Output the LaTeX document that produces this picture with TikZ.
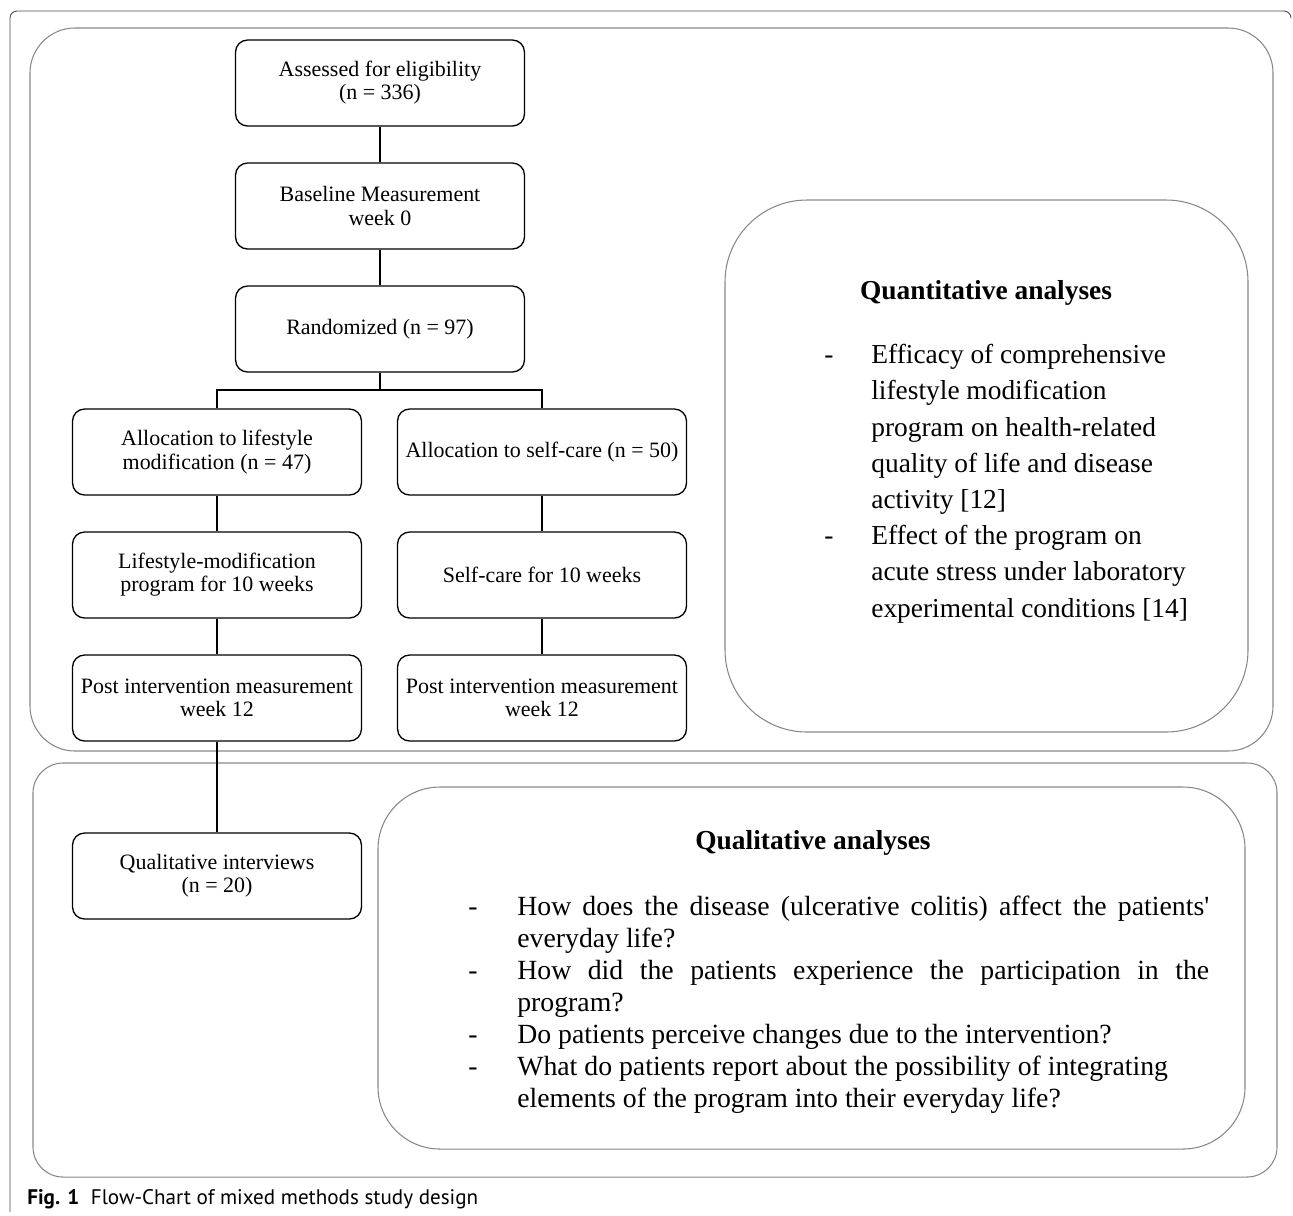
\documentclass[tikz,border=0pt]{standalone}
\usepackage{fontspec}
\setmainfont{Liberation Serif}[Ligatures=TeXOff]
\newfontfamily\capfont{PT Sans}
\usetikzlibrary{positioning}

\tikzset{
  flowbox/.style={draw=black, line width=0.75pt, rounded corners=0.24cm, fill=white,
    minimum width=5.78cm, minimum height=1.72cm, inner sep=2pt, align=center,
    font=\fontsize{12.5}{13.2}\selectfont},
  link/.style={draw=black, line width=0.75pt},
  panel/.style={draw=black!47, line width=0.6pt},
  frame/.style={draw=black!70, line width=0.5pt},
  heading/.style={inner sep=0pt, font=\fontsize{15.6}{18}\selectfont\bfseries}
}

\begin{document}
\begin{tikzpicture}[x=0.02cm, y=-0.02cm]
\useasboundingbox (0,0) rectangle (1293,1215);

  % frame and panels
  \draw[frame, rounded corners=0.14cm] (10,1212) -- (10,11) -- (1291,11) -- (1291,17);
  \draw[panel, rounded corners=0.9cm] (30,28) rectangle (1273,751);
  \draw[panel, rounded corners=0.6cm] (33,763) rectangle (1277,1177);
  \draw[panel, rounded corners=1.64cm] (725,200) rectangle (1248,732);
  \draw[panel, rounded corners=1.24cm] (378,787) rectangle (1245,1149);

  % flow chart
  \node[flowbox] (elig) at (380,83) {Assessed for eligibility\\(n = 336)};
  \node[flowbox] (base) at (380,206) {Baseline Measurement\\week 0};
  \node[flowbox] (rand) at (380,329) {Randomized (n = 97)};
  \node[flowbox] (alloclife) at (217,452) {Allocation to lifestyle\\modification (n = 47)};
  \node[flowbox] (allocself) at (542,452) {Allocation to self-care (n = 50)};
  \node[flowbox] (proglife) at (217,575) {Lifestyle-modification\\program for 10 weeks};
  \node[flowbox] (progself) at (542,575) {Self-care for 10 weeks};
  \node[flowbox] (postlife) at (217,698) {Post intervention measurement\\week 12};
  \node[flowbox] (postself) at (542,698) {Post intervention measurement\\week 12};
  \node[flowbox] (interv) at (217,876) {Qualitative interviews\\(n = 20)};
  \coordinate (split) at (380,390);

  \draw[link] (elig) -- (base);
  \draw[link] (base) -- (rand);
  \draw[link] (rand) -- (split);
  \draw[link] (alloclife.north) |- (split) -| (allocself.north);
  \draw[link] (alloclife) -- (proglife);
  \draw[link] (proglife) -- (postlife);
  \draw[link] (allocself) -- (progself);
  \draw[link] (progself) -- (postself);
  \draw[link] (postlife) -- (interv);

  % analyses
  \node[heading] (quanttitle) at (986,293) {Quantitative analyses};
  \node[anchor=north west, inner sep=0pt, font=\fontsize{15.6}{20.6}\selectfont] (quantlist) at (824,338) {%
    \begin{tabular}{@{}p{0.94cm}@{}l@{}}
    - & Efficacy of comprehensive\\
      & lifestyle modification\\
      & program on health-related\\
      & quality of life and disease\\
      & activity [12]\\
    - & Effect of the program on\\
      & acute stress under laboratory\\
      & experimental conditions [14]
    \end{tabular}};

  \node[heading] (qualtitle) at (813,843) {Qualitative analyses};
  \node[anchor=north west, inner sep=0pt, font=\fontsize{15.8}{18.2}\selectfont] (quallist) at (468,893) {%
    \begin{tabular}{@{}p{0.98cm}@{}p{13.84cm}@{}}
    - & How does the disease (ulcerative colitis) affect the patients'\linebreak everyday life?\\
    - & How did the patients experience the participation in the\linebreak program?\\
    - & Do patients perceive changes due to the intervention?\\
    - & What do patients report about the possibility of integrating\newline elements of the program into their everyday life?
    \end{tabular}};

  \node[anchor=base west, inner sep=0pt, font=\capfont\fontsize{12}{14}\selectfont] (caption) at (27,1204)
    {\textbf{Fig. 1}\hspace{0.55em}Flow-Chart of mixed methods study design};
\end{tikzpicture}
\end{document}
